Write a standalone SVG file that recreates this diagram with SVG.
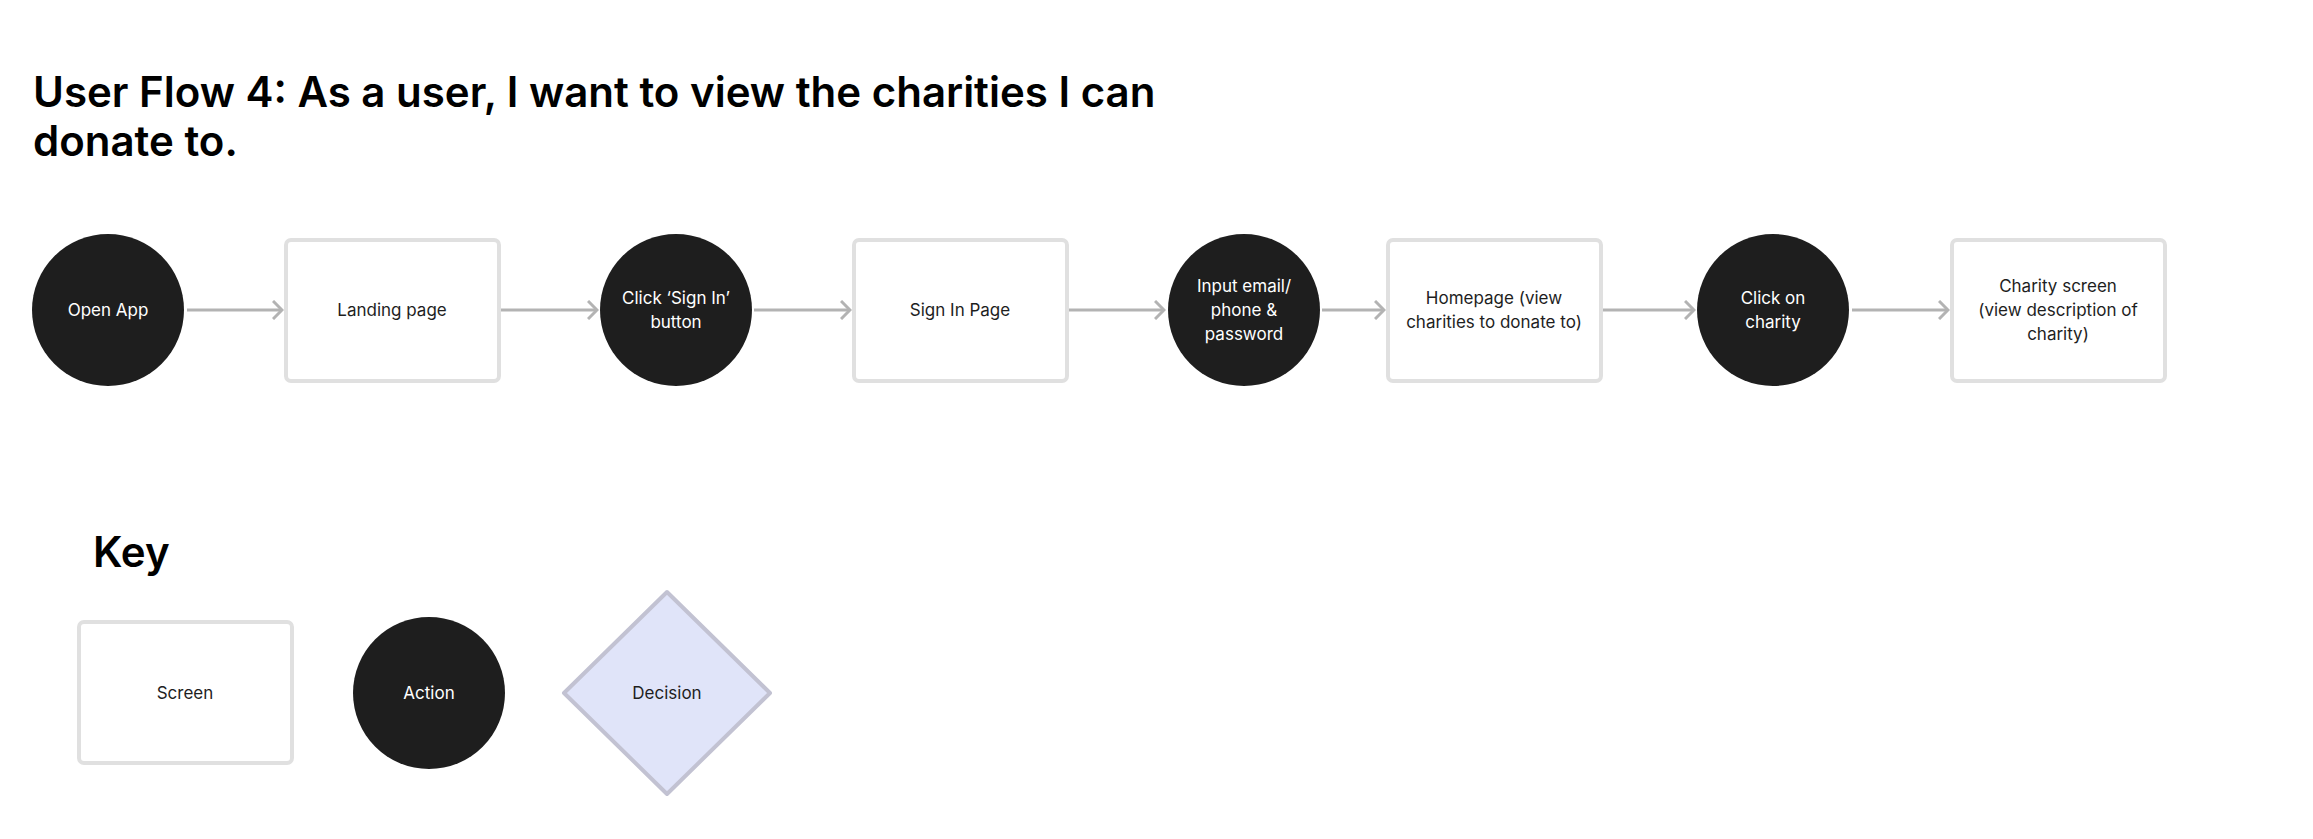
<svg xmlns="http://www.w3.org/2000/svg" width="2313" height="839" viewBox="0 0 2313 839">
<style>
.t{font-family:Inter,"Liberation Sans",sans-serif;font-size:17px;text-anchor:middle}
.w{fill:#fff}.d{fill:#1e1e1e}
.scr{fill:#fff;stroke:#e0e0e0;stroke-width:4}
.act{fill:#1e1e1e}
.h{font-family:Inter,"Liberation Sans",sans-serif;font-weight:600;font-size:42px;fill:#000}
.c{stroke:#b3b3b3;stroke-width:3;fill:none}
</style>
<defs><marker id="a" markerWidth="12" markerHeight="20" refX="10" refY="10" orient="auto" markerUnits="userSpaceOnUse"><path d="M1 1L10 10L1 19" fill="none" stroke="#b3b3b3" stroke-width="3"/></marker></defs>
<rect width="2313" height="839" fill="#fff"/>
<text class="h" x="33" y="107">User Flow 4: As a user, I want to view the charities I can</text>
<text class="h" x="33" y="156">donate to.</text>
<g id="connectors">
<path class="c" d="M187 310H282" marker-end="url(#a)"/>
<path class="c" d="M499 310H597" marker-end="url(#a)"/>
<path class="c" d="M754 310H850" marker-end="url(#a)"/>
<path class="c" d="M1069 310H1164" marker-end="url(#a)"/>
<path class="c" d="M1322 310H1384" marker-end="url(#a)"/>
<path class="c" d="M1602 310H1694" marker-end="url(#a)"/>
<path class="c" d="M1852 310H1948" marker-end="url(#a)"/>
</g>
<g id="n1"><circle class="act" cx="108" cy="310" r="76"/><text class="t w" x="108" y="316">Open App</text></g>
<g id="n2"><rect class="scr" x="286" y="240" width="213" height="141" rx="5"/><text class="t d" x="392" y="316">Landing page</text></g>
<g id="n3"><circle class="act" cx="676" cy="310" r="76"/><text class="t w" x="676" y="304">Click ‘Sign In’</text><text class="t w" x="676" y="328">button</text></g>
<g id="n4"><rect class="scr" x="854" y="240" width="213" height="141" rx="5"/><text class="t d" x="960" y="316">Sign In Page</text></g>
<g id="n5"><circle class="act" cx="1244" cy="310" r="76"/><text class="t w" x="1244" y="292">Input email/</text><text class="t w" x="1244" y="316">phone &amp;</text><text class="t w" x="1244" y="340">password</text></g>
<g id="n6"><rect class="scr" x="1388" y="240" width="213" height="141" rx="5"/><text class="t d" x="1494" y="304">Homepage (view</text><text class="t d" x="1494" y="328">charities to donate to)</text></g>
<g id="n7"><circle class="act" cx="1773" cy="310" r="76"/><text class="t w" x="1773" y="304">Click on</text><text class="t w" x="1773" y="328">charity</text></g>
<g id="n8"><rect class="scr" x="1952" y="240" width="213" height="141" rx="5"/><text class="t d" x="2058" y="292">Charity screen</text><text class="t d" x="2058" y="316">(view description of</text><text class="t d" x="2058" y="340">charity)</text></g>
<text class="h" x="93" y="567">Key</text>
<g id="k1"><rect class="scr" x="79" y="622" width="213" height="141" rx="5"/><text class="t d" x="185" y="699">Screen</text></g>
<g id="k2"><circle class="act" cx="429" cy="693" r="76"/><text class="t w" x="429" y="699">Action</text></g>
<g id="k3"><path d="M667 592L770 693L667 794L564 693Z" fill="#e0e4f9" stroke="#c2c2d2" stroke-width="4" stroke-linejoin="round"/><text class="t d" x="667" y="699">Decision</text></g>
</svg>
